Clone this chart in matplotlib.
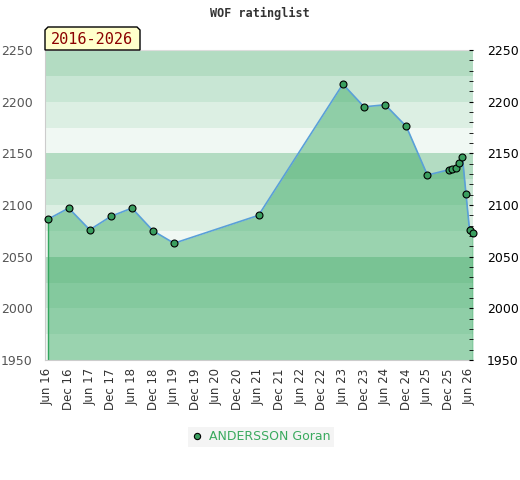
import pandas as pd
import matplotlib.pyplot as plt
from matplotlib.patches import Polygon

# rating history
dates = ["2016-06-01", "2016-12-01", "2017-06-01", "2017-12-01", "2018-06-01",
         "2018-12-01", "2019-06-01", "2021-06-01", "2023-06-01", "2023-12-01",
         "2024-06-01", "2024-12-01", "2025-06-01", "2025-12-01", "2026-01-01",
         "2026-02-01", "2026-03-01", "2026-04-01", "2026-05-01", "2026-06-01",
         "2026-07-01"]
ratings = [2086, 2097, 2076, 2089, 2097, 2075, 2063, 2090, 2217, 2195,
           2197, 2176, 2129, 2134, 2135, 2136, 2141, 2146, 2111, 2076, 2073]
player = "ANDERSSON Goran"
title = "WOF ratinglist"
period = "2016-2026"
y_ticks = [1950, 2000, 2050, 2100, 2150, 2200, 2250]

x = pd.to_datetime(dates)

fig = plt.figure(figsize=(5.2, 4.8), dpi=100)
ax = fig.add_axes([45 / 520, 120 / 480, 428 / 520, 310 / 480])

# background bands, every 25 points, cycling dark -> light
band_cols = ["#f0f8f3", "#dcefe3", "#c8e6d4", "#b3dcc2"]
for i, lo in enumerate(range(1950, 2250, 25)):
    ax.axhspan(lo, lo + 25, color=band_cols[i % 4], zorder=0, lw=0)

ax.fill_between(x, ratings, 1950, color="#33a65e", alpha=0.45, lw=0, zorder=1)
ax.vlines([x[0], x[-1]], 1950, [ratings[0], ratings[-1]], color="#33a65e", lw=1, zorder=2)
ax.plot(x, ratings, color="#5aa0d8", lw=1.2, zorder=3)
ax.plot(x, ratings, "o", ms=5, mfc="#3a9e5f", mec="black", mew=0.8,
        zorder=4, clip_on=False, label=player)

ax.set_ylim(1950, 2250)
ax.set_xlim(pd.Timestamp("2016-05-10"), x[-1])

ticks = pd.date_range("2016-06-01", "2026-06-01", freq="6MS")
ax.set_xticks(ticks)
ax.set_xticklabels([t.strftime("%b %y") for t in ticks], rotation=90,
                   fontsize=8.5, color="#333333")
ax.tick_params(axis="x", length=0, pad=6)

ax.set_yticks(y_ticks)
ax.tick_params(axis="y", left=False, length=0, labelsize=9, labelcolor="#555555", pad=9)
ax2 = ax.twinx()
ax2.set_ylim(1950, 2250)
ax2.set_yticks(y_ticks)
ax2.set_yticks(range(1950, 2251, 10), minor=True)
ax2.tick_params(axis="y", which="both", direction="in", length=3, labelsize=9, pad=10)

for a in (ax, ax2):
    for s in a.spines.values():
        s.set_visible(False)
ax.spines["left"].set_visible(True)
ax.spines["left"].set_color("#cccccc")
ax.spines["bottom"].set_visible(True)
ax.spines["bottom"].set_color("#cccccc")
ax.spines["top"].set_visible(True)
ax.spines["top"].set_color("#dddddd")

fig.text(260 / 520, 1 - 13 / 480, title, ha="center", va="center",
         family="DejaVu Sans Mono", fontweight="bold", fontsize=8.5, color="#333333")

# period label with chamfered top corners
px = [45, 45, 48, 137, 140, 140]
py = [50, 30, 27, 27, 30, 50]
poly = Polygon([(a / 520, 1 - b / 480) for a, b in zip(px, py)], closed=True,
               transform=fig.transFigure, facecolor="#ffffcc", edgecolor="black", lw=1)
fig.patches.append(poly)
fig.text(92 / 520, 1 - 39.5 / 480, period, ha="center", va="center",
         family="DejaVu Sans Mono", fontsize=11, color="#8b0000")

leg = fig.legend(loc="center", bbox_to_anchor=(261 / 520, 1 - 437 / 480),
                 frameon=True, fancybox=False, fontsize=9, handletextpad=0.5,
                 handlelength=0.9, borderpad=0.25, borderaxespad=0, markerscale=0.9)
leg.get_frame().set_facecolor("#f2f2f2")
leg.get_frame().set_edgecolor("none")
for t in leg.get_texts():
    t.set_color("#3aaa5e")

fig.savefig("out.png", dpi=100)
